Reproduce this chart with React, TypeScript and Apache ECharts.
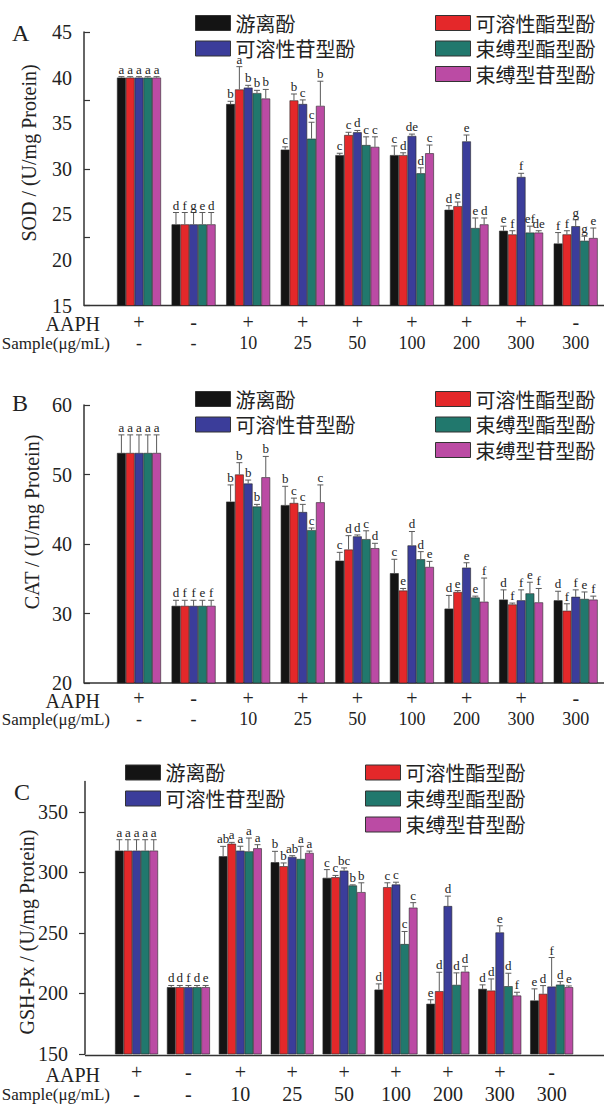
import React, { useEffect, useRef } from "react";
import * as echarts from "echarts";

// ---------- shared categories ----------
const SERIES_NAMES = ["游离酚", "可溶性酯型酚", "可溶性苷型酚", "束缚型酯型酚", "束缚型苷型酚"];
const COLORS = ["#141414", "#e4282a", "#3b3d9a", "#21786d", "#bb4ba4"];
const AAPH = ["+", "-", "+", "+", "+", "+", "+", "+", "-"];
const SAMPLE = ["-", "-", "10", "25", "50", "100", "200", "300", "300"];

// ---------- A: SOD ----------
const SOD_LABEL_TICKS = [15, 20, 25, 30, 35, 40, 45];
const SOD_MARK_TICKS = [15, 22.5, 30, 37.5, 45];
const SOD_FREE = [40, 23.9, 37.1, 32.1, 31.5, 31.5, 25.5, 23.2, 21.8];
const SOD_SOL_ESTER = [40, 23.9, 38.7, 37.5, 33.7, 31.5, 25.9, 22.8, 22.8];
const SOD_SOL_GLY = [40, 23.9, 38.9, 37.1, 34.0, 33.6, 33.0, 29.1, 23.7];
const SOD_BOUND_ESTER = [40, 23.9, 38.3, 33.3, 32.6, 29.5, 23.5, 23.0, 22.1];
const SOD_BOUND_GLY = [40, 23.9, 37.7, 36.9, 32.4, 31.7, 23.9, 23.0, 22.4];
const SOD_ERR_FREE = [0.1, 1.3, 0.3, 0.3, 0.2, 1.0, 0.45, 0.5, 1.2];
const SOD_ERR_SOL_ESTER = [0.1, 1.3, 2.5, 0.7, 0.3, 0.25, 0.45, 0.4, 0.4];
const SOD_ERR_SOL_GLY = [0.1, 1.3, 0.25, 0.45, 0.2, 0.2, 0.7, 0.4, 0.7];
const SOD_ERR_BOUND_ESTER = [0.1, 1.3, 0.3, 1.8, 0.9, 0.6, 1.1, 0.7, 0.5];
const SOD_ERR_BOUND_GLY = [0.1, 1.3, 1.0, 2.7, 1.1, 0.9, 0.7, 0.2, 1.1];
const SOD_LET_FREE = ["a", "d", "b", "c", "c", "c", "d", "e", "f"];
const SOD_LET_SOL_ESTER = ["a", "f", "a", "b", "c", "d", "e", "f", "f"];
const SOD_LET_SOL_GLY = ["a", "g", "b", "c", "d", "de", "e", "f", "g"];
const SOD_LET_BOUND_ESTER = ["a", "e", "b", "c", "c", "d", "e", "ef", "g"];
const SOD_LET_BOUND_GLY = ["a", "d", "b", "b", "c", "c", "d", "de", "e"];

// ---------- B: CAT ----------
const CAT_TICKS = [20, 30, 40, 50, 60];
const CAT_FREE = [53.1, 31.1, 46.1, 45.6, 37.6, 35.8, 30.7, 32.0, 31.9];
const CAT_SOL_ESTER = [53.1, 31.1, 50.0, 45.9, 39.2, 33.3, 33.1, 31.3, 30.4];
const CAT_SOL_GLY = [53.1, 31.1, 48.7, 44.6, 41.1, 39.8, 36.6, 31.9, 32.4];
const CAT_BOUND_ESTER = [53.1, 31.1, 45.4, 42.0, 40.7, 37.8, 32.3, 32.9, 32.1];
const CAT_BOUND_GLY = [53.1, 31.1, 49.6, 46.0, 39.4, 36.7, 31.7, 31.6, 32.0];
const CAT_ERR_FREE = [2.6, 0.8, 2.4, 2.7, 1.2, 2.0, 1.9, 1.4, 1.3];
const CAT_ERR_SOL_ESTER = [2.6, 0.8, 1.7, 0.7, 2.0, 0.3, 0.2, 0.2, 1.0];
const CAT_ERR_SOL_GLY = [2.6, 0.8, 0.5, 1.1, 0.2, 2.0, 0.7, 1.5, 1.0];
const CAT_ERR_BOUND_ESTER = [2.6, 0.8, 0.3, 0.3, 1.2, 1.1, 0.2, 1.6, 1.0];
const CAT_ERR_BOUND_GLY = [2.6, 0.8, 3.0, 2.5, 0.7, 0.8, 3.4, 2.0, 0.5];
const CAT_LET_FREE = ["a", "d", "b", "b", "c", "c", "d", "d", "d"];
const CAT_LET_SOL_ESTER = ["a", "f", "b", "c", "d", "e", "e", "f", "f"];
const CAT_LET_SOL_GLY = ["a", "f", "b", "c", "d", "d", "e", "f", "f"];
const CAT_LET_BOUND_ESTER = ["a", "e", "b", "c", "c", "d", "e", "e", "e"];
const CAT_LET_BOUND_GLY = ["a", "f", "b", "c", "d", "e", "f", "f", "f"];

// ---------- C: GSH-Px ----------
const GSH_TICKS = [150, 200, 250, 300, 350];
const GSH_FREE = [318, 205.2, 313.3, 308.4, 295.5, 203.2, 191.5, 203.8, 194.2];
const GSH_SOL_ESTER = [318, 205.2, 323.7, 305.1, 296, 287.8, 201.9, 202.4, 199.7];
const GSH_SOL_GLY = [318, 205.2, 318, 312.8, 301.5, 290, 272.2, 250.4, 205.7];
const GSH_BOUND_ESTER = [318, 205.2, 317.4, 311.1, 289.2, 240.8, 207.1, 206, 207.3];
const GSH_BOUND_GLY = [318, 205.2, 319.9, 316.1, 283.7, 270.9, 218, 198.3, 205.2];
const GSH_ERR_FREE = [9, 1.4, 8.2, 9, 6.8, 4.7, 3.3, 3.3, 9.6];
const GSH_ERR_SOL_ESTER = [9, 1.4, 1.1, 2.7, 1.5, 3.6, 15.6, 9.6, 6.8];
const GSH_ERR_SOL_GLY = [9, 1.4, 3.6, 1, 2.2, 1.9, 8.2, 5.5, 24];
const GSH_ERR_BOUND_ESTER = [9, 1.4, 11, 10.4, 0.5, 10.4, 9.9, 10.7, 2.5];
const GSH_ERR_BOUND_GLY = [9, 1.4, 3, 1.5, 7.7, 4.1, 4.4, 2.7, 1];
const GSH_LET_FREE = ["a", "d", "ab", "b", "c", "d", "e", "d", "e"];
const GSH_LET_SOL_ESTER = ["a", "d", "a", "b", "c", "c", "d", "d", "d"];
const GSH_LET_SOL_GLY = ["a", "f", "a", "ab", "bc", "c", "d", "e", "f"];
const GSH_LET_BOUND_ESTER = ["a", "d", "a", "a", "b", "c", "d", "d", "d"];
const GSH_LET_BOUND_GLY = ["a", "e", "a", "a", "b", "c", "d", "f", "e"];

const SERIF = '"Liberation Serif", "DejaVu Serif", serif';
const CJK = '"Noto Sans CJK SC", "Noto Sans", sans-serif';
const INK = "#222";
const AXIS = "#333";

const PANELS = [
  {
    letter: "A", yName: "SOD / (U/mg Protein)",
    values: [SOD_FREE, SOD_SOL_ESTER, SOD_SOL_GLY, SOD_BOUND_ESTER, SOD_BOUND_GLY],
    errs: [SOD_ERR_FREE, SOD_ERR_SOL_ESTER, SOD_ERR_SOL_GLY, SOD_ERR_BOUND_ESTER, SOD_ERR_BOUND_GLY],
    letters: [SOD_LET_FREE, SOD_LET_SOL_ESTER, SOD_LET_SOL_GLY, SOD_LET_BOUND_ESTER, SOD_LET_BOUND_GLY],
    min: 15, max: 45, labelVals: SOD_LABEL_TICKS, tickVals: SOD_MARK_TICKS,
    layout: {
      letterX: 12, letterY: 33, nameX: 29, nameY: 153,
      axisX: 84, left: 111.7, right: 603, top: 32, bottom: 305.5,
      tickInside: true, labelMargin: 12, barW: 8.8,
      aaphMargin: 6.5, sampleOffset: 20, sampleMargin: 8.5, sampleFont: 18,
      aaphY: 324, sampleY: 343,
      legL: 195, legR: 435, legTop: 13, legGap: 5.5,
    },
  },
  {
    letter: "B", yName: "CAT / (U/mg Protein)",
    values: [CAT_FREE, CAT_SOL_ESTER, CAT_SOL_GLY, CAT_BOUND_ESTER, CAT_BOUND_GLY],
    errs: [CAT_ERR_FREE, CAT_ERR_SOL_ESTER, CAT_ERR_SOL_GLY, CAT_ERR_BOUND_ESTER, CAT_ERR_BOUND_GLY],
    letters: [CAT_LET_FREE, CAT_LET_SOL_ESTER, CAT_LET_SOL_GLY, CAT_LET_BOUND_ESTER, CAT_LET_BOUND_GLY],
    min: 20, max: 60, labelVals: CAT_TICKS, tickVals: CAT_TICKS,
    layout: {
      letterX: 12, letterY: 403, nameX: 32, nameY: 522,
      axisX: 84, left: 111.7, right: 603, top: 405, bottom: 683,
      tickInside: true, labelMargin: 12, barW: 8.8,
      aaphMargin: 5, sampleOffset: 20, sampleMargin: 7, sampleFont: 18,
      aaphY: 701, sampleY: 719,
      legL: 195, legR: 435, legTop: 389, legGap: 5.5,
    },
  },
  {
    letter: "C", yName: "GSH-Px / (U/mg Protein)",
    values: [GSH_FREE, GSH_SOL_ESTER, GSH_SOL_GLY, GSH_BOUND_ESTER, GSH_BOUND_GLY],
    errs: [GSH_ERR_FREE, GSH_ERR_SOL_ESTER, GSH_ERR_SOL_GLY, GSH_ERR_BOUND_ESTER, GSH_ERR_BOUND_GLY],
    letters: [GSH_LET_FREE, GSH_LET_SOL_ESTER, GSH_LET_SOL_GLY, GSH_LET_BOUND_ESTER, GSH_LET_BOUND_GLY],
    min: 150, max: 375, labelVals: GSH_TICKS, tickVals: GSH_TICKS,
    layout: {
      letterX: 14, letterY: 792, nameX: 27, nameY: 932,
      axisX: 85, left: 110.6, right: 577.6, top: 781.6, bottom: 1055.5,
      tickInside: false, labelMargin: 17, barW: 8.6,
      aaphMargin: 7.5, sampleOffset: 21, sampleMargin: 9, sampleFont: 20,
      aaphY: 1075, sampleY: 1094,
      legL: 125, legR: 365, legTop: 762.5, legGap: 6,
    },
  },
];

function buildOption() {
  const option: any = {
    animation: false,
    backgroundColor: "#ffffff",
    grid: [],
    xAxis: [],
    yAxis: [],
    legend: [],
    series: [],
    graphic: { elements: [] },
  };
  PANELS.forEach((p, gi) => {
    const L = p.layout;
    option.grid.push({
      left: L.left, top: L.top, width: L.right - L.left, height: L.bottom - L.top,
      containLabel: false,
    });
    option.yAxis.push({
      gridIndex: gi, type: "value", min: p.min, max: p.max,
      offset: L.left - L.axisX,
      axisLine: { show: true, lineStyle: { color: AXIS, width: 1.5 } },
      axisTick: {
        show: true, inside: L.tickInside, length: 6,
        customValues: p.tickVals, lineStyle: { color: AXIS, width: 1.2 },
      },
      axisLabel: {
        customValues: p.labelVals, margin: L.labelMargin,
        fontSize: 20, fontFamily: SERIF, color: INK,
      },
      splitLine: { show: false },
    });
    option.xAxis.push({
      gridIndex: gi, type: "category", data: AAPH, position: "bottom",
      axisLine: { show: false }, axisTick: { show: false },
      axisLabel: { interval: 0, margin: L.aaphMargin, fontSize: 20, fontFamily: SERIF, color: INK },
    });
    option.xAxis.push({
      gridIndex: gi, type: "category", data: SAMPLE, position: "bottom", offset: L.sampleOffset,
      axisLine: { show: false }, axisTick: { show: false },
      axisLabel: { interval: 0, margin: L.sampleMargin, fontSize: L.sampleFont, fontFamily: SERIF, color: INK },
    });
    const xi = gi * 2;
    p.values.forEach((vals, k) => {
      option.series.push({
        type: "bar", name: SERIES_NAMES[k], xAxisIndex: xi, yAxisIndex: gi,
        data: vals, barWidth: L.barW, barGap: "0%",
        itemStyle: { color: COLORS[k], borderColor: "#2a2a2a", borderWidth: 0.6 },
        z: 2,
      });
    });
    p.values.forEach((vals, k) => {
      const errs = p.errs[k];
      const lets = p.letters[k];
      option.series.push({
        type: "custom", name: `err-${p.letter}-${k}`, xAxisIndex: xi, yAxisIndex: gi,
        silent: true, z: 5, clip: false,
        data: vals.map((v, i) => [i, v, errs[i]]),
        renderItem: (params: any, api: any) => {
          const i = api.value(0);
          const v = api.value(1);
          const e = api.value(2);
          const base = api.coord([i, v]);
          const top = api.coord([i, v + e]);
          const x = base[0] + (k - 2) * L.barW;
          const ls = { stroke: "#5a5a5a", lineWidth: 1 };
          const txt = lets[params.dataIndex];
          return {
            type: "group",
            children: [
              { type: "line", shape: { x1: x, y1: base[1], x2: x, y2: top[1] }, style: ls },
              { type: "line", shape: { x1: x - 3, y1: top[1], x2: x + 3, y2: top[1] }, style: ls },
              {
                type: "text", x: x, y: top[1] - 1,
                style: {
                  text: txt, font: `13px ${SERIF}`, fill: INK,
                  align: "center", verticalAlign: "bottom",
                  textAlign: "center", textVerticalAlign: "bottom",
                },
              },
            ],
          };
        },
      });
    });
    const legCommon = {
      orient: "vertical", padding: 0, itemWidth: 35, itemHeight: 15, itemGap: L.legGap,
      icon: "rect", selectedMode: false,
      itemStyle: { borderColor: "#333", borderWidth: 1 },
      textStyle: { fontSize: 20, fontFamily: CJK, color: INK, lineHeight: 20 },
    };
    option.legend.push({ ...legCommon, left: L.legL, top: L.legTop, data: [SERIES_NAMES[0], SERIES_NAMES[2]] });
    option.legend.push({ ...legCommon, left: L.legR, top: L.legTop, data: [SERIES_NAMES[1], SERIES_NAMES[3], SERIES_NAMES[4]] });

    const g = option.graphic.elements;
    g.push({
      type: "line", silent: true,
      shape: { x1: L.axisX, y1: L.bottom, x2: 604, y2: L.bottom },
      style: { stroke: AXIS, lineWidth: 1.5 },
    });
    g.push({
      type: "text", x: L.letterX, y: L.letterY, silent: true,
      style: {
        text: p.letter, font: `24px ${SERIF}`, fill: INK,
        align: "left", verticalAlign: "middle", textAlign: "left", textVerticalAlign: "middle",
      },
    });
    g.push({
      type: "text", x: L.nameX, y: L.nameY, rotation: Math.PI / 2, silent: true,
      style: {
        text: p.yName, font: `20px ${SERIF}`, fill: INK,
        align: "center", verticalAlign: "middle", textAlign: "center", textVerticalAlign: "middle",
      },
    });
    g.push({
      type: "text", x: 100, y: L.aaphY, silent: true,
      style: {
        text: "AAPH", font: `20px ${SERIF}`, fill: INK,
        align: "right", verticalAlign: "middle", textAlign: "right", textVerticalAlign: "middle",
      },
    });
    g.push({
      type: "text", x: 110, y: L.sampleY, silent: true,
      style: {
        text: "Sample(μg/mL)", font: `17px ${SERIF}`, fill: INK,
        align: "right", verticalAlign: "middle", textAlign: "right", textVerticalAlign: "middle",
      },
    });
  });
  return option;
}

export default function App() {
  const ref = useRef<HTMLDivElement>(null);
  useEffect(() => {
    document.body.style.margin = "0";
    if (!ref.current) return;
    const chart = echarts.init(ref.current, undefined, { renderer: "svg" });
    chart.setOption(buildOption());
    return () => chart.dispose();
  }, []);
  return <div ref={ref} style={{ width: 604, height: 1104, background: "#fff" }} />;
}
